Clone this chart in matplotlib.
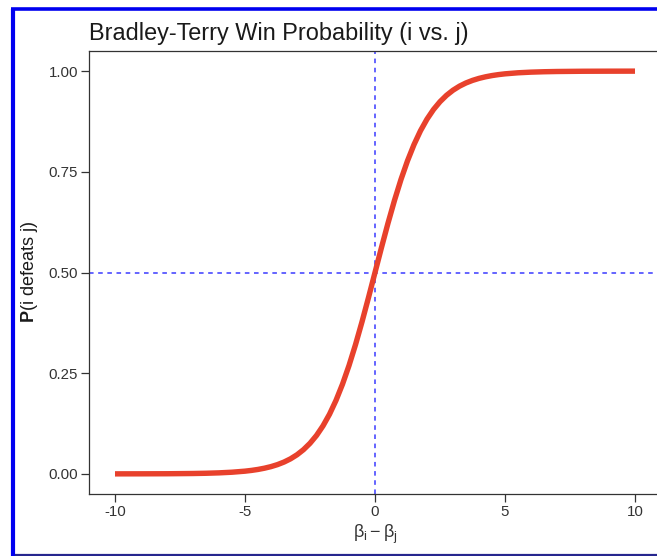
import matplotlib
matplotlib.use("Agg")
import matplotlib.pyplot as plt
from matplotlib.lines import Line2D

plt.rcParams["font.family"] = ["Liberation Sans", "DejaVu Sans"]
plt.rcParams["mathtext.fontset"] = "custom"
plt.rcParams["mathtext.rm"] = "Liberation Sans"
plt.rcParams["mathtext.it"] = "Liberation Sans"
plt.rcParams["mathtext.bf"] = "Liberation Sans:bold"
plt.rcParams["axes.unicode_minus"] = False

# skill difference and win probability
diff = [-10, -9, -8, -7.5, -7, -6.5, -6, -5.5,
        -5, -4.75, -4.5, -4.25, -4, -3.75, -3.5, -3.25, -3, -2.75, -2.5, -2.25,
        -2, -1.75, -1.5, -1.25, -1, -0.75, -0.5, -0.25, 0, 0.25, 0.5, 0.75,
        1, 1.25, 1.5, 1.75, 2, 2.25, 2.5, 2.75, 3, 3.25, 3.5, 3.75,
        4, 4.25, 4.5, 4.75, 5,
        5.5, 6, 6.5, 7, 7.5, 8, 9, 10]
prob = [0.0000, 0.0001, 0.0003, 0.0006, 0.0009, 0.0015, 0.0025, 0.0041,
        0.0067, 0.0086, 0.0110, 0.0141, 0.0180, 0.0230, 0.0293, 0.0373, 0.0474, 0.0601, 0.0759, 0.0953,
        0.1192, 0.1480, 0.1824, 0.2227, 0.2689, 0.3208, 0.3775, 0.4378, 0.5000, 0.5622, 0.6225, 0.6792,
        0.7311, 0.7773, 0.8176, 0.8520, 0.8808, 0.9047, 0.9241, 0.9399, 0.9526, 0.9627, 0.9707, 0.9770,
        0.9820, 0.9859, 0.9890, 0.9914, 0.9933,
        0.9959, 0.9975, 0.9985, 0.9991, 0.9994, 0.9997, 0.9999, 1.0000]

xticks = [-10, -5, 0, 5, 10]
yticks = [0.00, 0.25, 0.50, 0.75, 1.00]

W, H = 657, 556
fig = plt.figure(figsize=(W / 100, H / 100), dpi=100)
fig.patch.set_facecolor("white")

# frame: bright blue left and top, thin navy rule at the bottom
def px(x, y):
    return x / W, 1 - y / H

fig.add_artist(Line2D(*zip(px(13, 8.5), px(13, 556)), color="#0000f0", linewidth=3.0,
                      transform=fig.transFigure, solid_capstyle="butt"))
fig.add_artist(Line2D(*zip(px(11, 8.5), px(657, 8.5)), color="#0000f0", linewidth=2.6,
                      transform=fig.transFigure, solid_capstyle="butt"))
fig.add_artist(Line2D(*zip(px(15, 555), px(657, 555)), color="#26268e", linewidth=1.6,
                      transform=fig.transFigure, solid_capstyle="butt"))

ax = fig.add_axes([89 / W, 62 / H, 572 / W, 443 / H])
ax.plot(diff, prob, color="#e8412c", linewidth=3.9, solid_capstyle="butt", zorder=3)
ax.axvline(0, color="#3a3aff", linewidth=1.1, linestyle=(0, (3, 3)), zorder=2)
ax.axhline(0.5, color="#3a3aff", linewidth=1.1, linestyle=(0, (3, 3)), zorder=2)

ax.set_xlim(-11, 11)
ax.set_ylim(-0.05, 1.05)
ax.set_xticks(xticks)
ax.set_xticklabels([str(t) for t in xticks])
ax.set_yticks(yticks)
ax.set_yticklabels([f"{t:.2f}" for t in yticks])

for s in ax.spines.values():
    s.set_color("#333333")
    s.set_linewidth(0.9)
ax.tick_params(colors="#333333", labelcolor="#333333", labelsize=10.8,
               length=6, width=0.9, pad=2)

ax.set_title("Bradley-Terry Win Probability (i vs. j)", loc="left",
             fontsize=16.9, color="#1a1a1a", pad=8)
ax.set_xlabel(r"$\mathrm{\beta}_\mathrm{i} - \mathrm{\beta}_\mathrm{j}$",
              fontsize=13, color="#333333", labelpad=3)
ax.set_ylabel(r"$\mathbf{P}$(i defeats j)", fontsize=13, color="#1a1a1a", labelpad=6)

fig.savefig("out.png", dpi=100)
